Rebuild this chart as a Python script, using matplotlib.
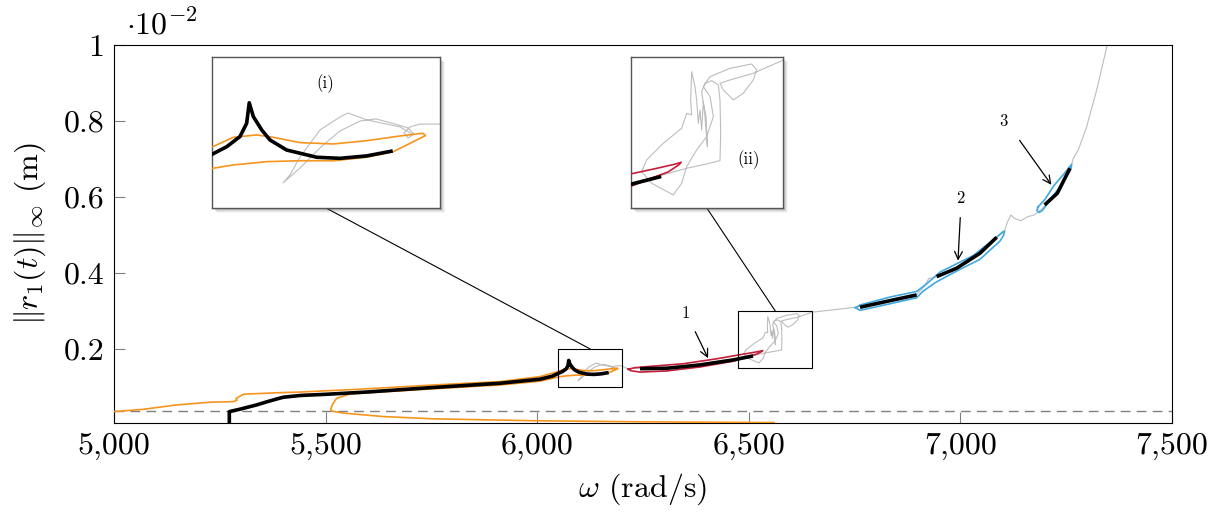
import numpy as np
import matplotlib
matplotlib.use('Agg')
import matplotlib.pyplot as plt
from matplotlib.patches import Rectangle, ConnectionPatch

plt.rcParams['font.family'] = 'serif'
plt.rcParams['font.serif'] = ['cmr10']
plt.rcParams['mathtext.fontset'] = 'cm'
plt.rcParams['axes.unicode_minus'] = False
plt.rcParams['axes.formatter.use_mathtext'] = True

# omega in rad/s, amplitude in 1e-2 m
orange_w = [4990, 5000, 5069, 5148, 5227, 5282, 5291, 5288, 5296, 5306, 5384, 5440, 5581, 5754, 5912, 6006,
            6050.5, 6064, 6079.4, 6090.3, 6107.9, 6129.8, 6151.8, 6173.7, 6188.6, 6190.5,
            6182.4, 6169.3, 6151.8, 6129.8, 6107.9, 6086, 6064, 6050.5,
            6006, 5912, 5754, 5597, 5557, 5526, 5516.8, 5512, 5516, 5542, 5636, 5754, 5991, 6250, 6560]
orange_a = [0.034, 0.035, 0.041, 0.0526, 0.0597, 0.0613, 0.065, 0.069, 0.0745, 0.0808, 0.0845, 0.0865, 0.094, 0.105, 0.114, 0.127,
            0.1406, 0.1468, 0.1484, 0.1468, 0.1433, 0.1424, 0.1446, 0.1477, 0.1495, 0.1480,
            0.1439, 0.1373, 0.1336, 0.1313, 0.1313, 0.1307, 0.1285, 0.1263,
            0.115, 0.105, 0.095, 0.0845, 0.081, 0.070, 0.055, 0.041, 0.036, 0.031, 0.022, 0.016, 0.011, 0.008, 0.006]

black0_w = [5272.5, 5272.5, 5300, 5337, 5365, 5384, 5400, 5440, 5500, 5597, 5754, 5912, 6006, 6035, 6050.5,
            6059.7, 6068.4, 6072.8, 6074.5, 6077.2, 6082.7, 6088.2, 6099.1, 6118.9, 6134.2, 6151.8, 6168.9]
black0_a = [-0.02, 0.035, 0.042, 0.0526, 0.062, 0.068, 0.0728, 0.0775, 0.0805, 0.0865, 0.0985, 0.1096, 0.1202, 0.128, 0.1358,
            0.1406, 0.1473, 0.1561, 0.1697, 0.1605, 0.1517, 0.1450, 0.1384, 0.1336, 0.1329, 0.1345, 0.1378]

red_w = [6215, 6230, 6266, 6345, 6424, 6475, 6502, 6525, 6533, 6530, 6518, 6508.6, 6490, 6463, 6385, 6306, 6243, 6222, 6215]
red_a = [0.1466, 0.1505, 0.1540, 0.161, 0.174, 0.184, 0.189, 0.1935, 0.1955, 0.1929, 0.186, 0.183, 0.177, 0.1675, 0.1525, 0.142, 0.139, 0.1425, 0.1466]
black1_w = [6243, 6306, 6385, 6463, 6510]
black1_a = [0.148, 0.149, 0.158, 0.171, 0.1815]

blue2_w = [6752, 6762.7, 6833.4, 6896.6, 6920.3, 6951.7, 7030.4, 7085.7, 7100, 7104.5,
           7102, 7093.5, 7046.2, 6991.1, 6943.9, 6912.2, 6896.6, 6833.4, 6762.7, 6752]
blue2_a = [0.3085, 0.3155, 0.3365, 0.3512, 0.3714, 0.4022, 0.4459, 0.4943, 0.508, 0.5100,
           0.499, 0.4838, 0.4357, 0.4049, 0.3767, 0.3523, 0.3347, 0.3188, 0.3015, 0.3085]
black2a_w = [6762.7, 6833.4, 6896.6]
black2a_a = [0.3097, 0.3270, 0.3421]
black2b_w = [6943.9, 6991.1, 7046.2, 7085.7]
black2b_a = [0.3903, 0.4124, 0.4518, 0.4939]

blue3_w = [7183, 7200, 7221, 7245, 7263, 7261, 7240, 7215, 7195, 7186, 7181, 7183]
blue3_a = [0.573, 0.594, 0.630, 0.661, 0.686, 0.674, 0.634, 0.597, 0.566, 0.559, 0.564, 0.573]
black3_w = [7199, 7229, 7259]
black3_a = [0.579, 0.6097, 0.6755]

gray_w = [6181.6, 6173.7, 6152, 6139.5, 6134.2, 6121.1, 6107.9, 6101.3, 6096.7, 6107.9, 6122.4, 6134.2, 6147.4,
          6157.9, 6170.4, 6179, 6182.9, 6179, 6176.3, 6180.3, 6186.8, 6200, 6213, 6260, 6350, 6450,
          6510.5, 6539.2, 6562.1, 6577.4, 6578.2, 6577.4, 6575.5, 6567.9, 6560.2, 6556.4, 6558.3, 6561.4,
          6562.9, 6560.2, 6558.3, 6556.4, 6554.5, 6552.6, 6550.6, 6548.7, 6544.9, 6543.8, 6544.9, 6539.2,
          6533.4, 6512.4, 6493.3, 6487.6, 6499.0, 6523.9, 6533.4, 6539.2, 6550.6, 6562.1, 6569.8, 6566.0,
          6558.3, 6566.0, 6588.9, 6613.7, 6619.5, 6615.6, 6604.1, 6592.7, 6581.2, 6577.4, 6588.9, 6615.6,
          6650, 6700, 6762, 6830, 6896, 6915, 6925, 6944, 6991, 7046, 7086, 7103.6, 7111.6, 7119.5, 7127.3,
          7143, 7158.8, 7174.5, 7190.3, 7229, 7262, 7266.7, 7278.5, 7298.4, 7322, 7347, 7355]
gray_a = [0.149, 0.1537, 0.1583, 0.1629, 0.1603, 0.1517, 0.1338, 0.1219, 0.1166, 0.1265, 0.1411, 0.151, 0.1576,
          0.159, 0.1556, 0.153, 0.149, 0.1464, 0.1497, 0.1537, 0.1556, 0.1556, 0.148, 0.150, 0.155, 0.170,
          0.1827, 0.1896, 0.1939, 0.1972, 0.2242, 0.2572, 0.2720, 0.2763, 0.2737, 0.2654, 0.2539, 0.2407,
          0.2110, 0.2407, 0.2555, 0.2275, 0.2473, 0.2341, 0.2572, 0.2704, 0.2852, 0.2572, 0.2424, 0.2440,
          0.2292, 0.2143, 0.1979, 0.1863, 0.1748, 0.1632, 0.1748, 0.1912, 0.2077, 0.2209, 0.2407, 0.2605,
          0.2704, 0.2803, 0.2885, 0.2928, 0.2869, 0.2770, 0.2638, 0.2572, 0.2671, 0.2737, 0.2770, 0.2836,
          0.2967, 0.303, 0.311, 0.325, 0.342, 0.365, 0.385, 0.390, 0.412, 0.450, 0.493, 0.5087, 0.535, 0.5526, 0.544,
          0.5376, 0.548, 0.5526, 0.566, 0.612, 0.682, 0.7018, 0.7237, 0.785, 0.8816, 1.0, 1.04]

xticks = [5000, 5500, 6000, 6500, 7000, 7500]
xtick_labels = ['5,000', '5,500', '6,000', '6,500', '7,000', '7,500']
yticks = [0.2, 0.4, 0.6, 0.8, 1.0]
ytick_labels = ['0.2', '0.4', '0.6', '0.8', '1']
threshold = 0.0375

box1 = (6050, 6200, 0.1, 0.2)
box2 = (6475, 6650, 0.15, 0.3)

ORANGE = '#f7941d'
RED = '#c41e3a'
BLUE = '#3ea8e0'
GRAY = '#bdbdbd'


def draw_curves(a):
    a.plot(gray_w, gray_a, color=GRAY, lw=0.8, zorder=2)
    a.plot(orange_w, orange_a, color=ORANGE, lw=1.2, zorder=3)
    a.plot(red_w, red_a, color=RED, lw=1.2, zorder=3)
    a.plot(blue2_w, blue2_a, color=BLUE, lw=1.2, zorder=3)
    a.plot(blue3_w, blue3_a, color=BLUE, lw=1.2, zorder=3)
    for w, amp in [(black0_w, black0_a), (black1_w, black1_a), (black2a_w, black2a_a),
                   (black2b_w, black2b_a), (black3_w, black3_a)]:
        a.plot(w, amp, color='black', lw=2.6, zorder=4, solid_capstyle='butt')


fig = plt.figure(figsize=(12.19, 5.18), dpi=100)
ax = fig.add_axes([114 / 1219, 1 - 423 / 518, 1058 / 1219, 378 / 518])
draw_curves(ax)
ax.axhline(threshold, color='#808080', lw=1.0, dashes=(7, 4.5), zorder=1)
ax.set_xlim(5000, 7500)
ax.set_ylim(0.005, 1.0)
ax.set_xticks(xticks)
ax.set_xticklabels(xtick_labels)
ax.set_yticks(yticks)
ax.set_yticklabels(ytick_labels)
ax.tick_params(direction='in', length=8, width=0.8, color='#808080', labelsize=23, pad=7)
for s in ax.spines.values():
    s.set_linewidth(0.8)
ax.set_xlabel(r'$\omega$ (rad/s)', fontsize=23, labelpad=8)
ax.set_ylabel(r'$\|r_1(t)\|_\infty$ (m)', fontsize=23, labelpad=11)
fig.text(126 / 1219, 1 - 34 / 518, r'$\cdot 10^{-2}$', fontsize=23, va='baseline', ha='left')

for (x0, x1, y0, y1) in [box1, box2]:
    ax.add_patch(Rectangle((x0, y0), x1 - x0, y1 - y0, fill=False, ec='black', lw=0.8, zorder=5))

# numbered arrows
arrows = [('1', (6351.6, 0.294), (6370.5, 0.252), (6406.7, 0.169)),
          ('2', (7000.5, 0.597), (7000, 0.553), (6994, 0.425)),
          ('3', (7100.6, 0.80), (7136, 0.755), (7218.8, 0.626))]
for lab, pos, start, tip in arrows:
    ax.text(pos[0], pos[1], lab, fontsize=12, ha='center', va='center')
    ax.annotate('', xy=tip, xytext=start,
                arrowprops=dict(arrowstyle='->', lw=0.9, color='black', mutation_scale=14), zorder=6)

# insets with drop shadow
insets = [([212, 57, 228, 151], box1, '(i)', (0.496, 0.826)),
          ([630.7, 56.7, 152.6, 151.6], box2, '(ii)', (0.771, 0.319))]
for (px, py, pw, ph), (x0, x1, y0, y1), lab, lpos in insets:
    for k, al in zip([5, 4, 3, 2], [0.06, 0.09, 0.12, 0.16]):
        fig.patches.append(Rectangle(((px + k) / 1219, 1 - (py + ph + k) / 518), pw / 1219, ph / 518,
                                     transform=fig.transFigure, fc='#555555', ec='none', alpha=al, zorder=3))
    ins = fig.add_axes([px / 1219, 1 - (py + ph) / 518, pw / 1219, ph / 518], zorder=5)
    draw_curves(ins)
    ins.set_xlim(x0, x1)
    ins.set_ylim(y0, y1)
    ins.set_xticks([])
    ins.set_yticks([])
    for s in ins.spines.values():
        s.set_linewidth(1.0)
        s.set_edgecolor('#555555')
    ins.text(lpos[0], lpos[1], lab, transform=ins.transAxes, fontsize=12, ha='center', va='center')
    con = ConnectionPatch(xyA=(0.5, 0), coordsA='axes fraction', axesA=ins,
                          xyB=((x0 + x1) / 2, y1), coordsB='data', axesB=ax,
                          color='black', lw=0.8, zorder=2)
    fig.add_artist(con)

fig.savefig('out.png', dpi=100)
